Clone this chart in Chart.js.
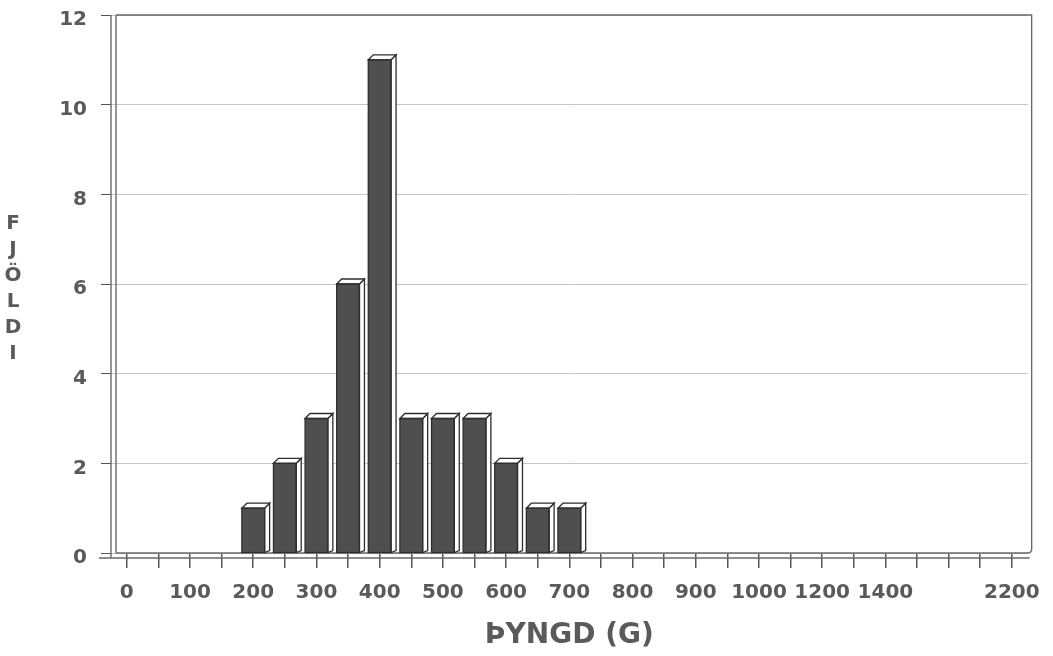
<!DOCTYPE html>
<html>
<head>
<meta charset="utf-8">
<title>Þyngd</title>
<script src="https://cdn.jsdelivr.net/npm/chart.js@4/dist/chart.umd.min.js"></script>
<style>
  body { margin: 0; background: #fff; }
  canvas { display: block; }
</style>
</head>
<body>
<canvas id="thyngd" width="1053" height="656"></canvas>
<script>
// flokkar (g) - 29 bil á x-ás
var flokkar = ['0', '50', '100', '150', '200', '250', '300', '350', '400', '450',
               '500', '550', '600', '650', '700', '750', '800', '850', '900', '950',
               '1000', '1100', '1200', '1300', '1400', '1600', '1800', '2000', '2200'];
// fjöldi í hverju bili
var fjoldi = [0, 0, 0, 0, 1, 2, 3, 6, 11, 3,
              3, 3, 2, 1, 1, 0, 0, 0, 0, 0,
              0, 0, 0, 0, 0, 0, 0, 0, 0];
// merkingar sem birtast undir ásnum
var merkingar = ['0', '', '100', '', '200', '', '300', '', '400', '',
                 '500', '', '600', '', '700', '', '800', '', '900', '',
                 '1000', '', '1200', '', '1400', '', '', '', '2200'];
var yAsTitill = ['F', 'J', 'Ö', 'L', 'D', 'I'];

var letur = '"DejaVu Sans", "Liberation Sans", sans-serif';
var grar = '#5a5a5a';

// rammi: tvöfaldur veggur vinstra megin og gólf undir súlunum
var rammi = {
  id: 'rammi',
  beforeDatasetsDraw: function(chart) {
    var c = chart.ctx, a = chart.chartArea;
    var L = a.left, R = a.right + 4, T = a.top, B = a.bottom;
    c.save();
    c.strokeStyle = '#6a6a6a';
    c.lineWidth = 1.4;
    c.beginPath();
    c.moveTo(L, T); c.lineTo(L, B + 5);
    c.moveTo(L + 5, T); c.lineTo(L + 5, B);
    c.moveTo(L + 5, T); c.lineTo(R, T);
    c.lineTo(R, B - 4); c.quadraticCurveTo(R, B, R - 4, B);
    c.moveTo(L + 5, B); c.lineTo(R - 4, B);
    c.moveTo(L - 12, B + 5); c.lineTo(R - 2, B + 5);
    c.stroke();
    c.restore();
  }
};

// þrívíddaráhrif: efri flötur og hliðarflötur á hverri súlu
var thrividd = {
  id: 'thrividd',
  afterDatasetsDraw: function(chart) {
    var c = chart.ctx;
    var meta = chart.getDatasetMeta(0);
    var d = 5;
    c.save();
    c.lineWidth = 1.3;
    c.strokeStyle = '#2e2e2e';
    c.fillStyle = '#ffffff';
    meta.data.forEach(function(bar, i) {
      if (!fjoldi[i]) return;
      var p = bar.getProps(['x', 'y', 'base', 'width'], true);
      var l = p.x - p.width / 2, r = p.x + p.width / 2;
      // hlið
      c.beginPath();
      c.moveTo(r, p.y); c.lineTo(r + d, p.y - d);
      c.lineTo(r + d, p.base - 2); c.lineTo(r, p.base);
      c.closePath(); c.fill(); c.stroke();
      // toppur
      c.beginPath();
      c.moveTo(l, p.y); c.lineTo(l + d, p.y - d);
      c.lineTo(r + d, p.y - d); c.lineTo(r, p.y);
      c.closePath(); c.fill(); c.stroke();
      // framhlið
      c.strokeRect(l, p.y, p.width, p.base - p.y);
    });
    c.restore();
  }
};

// lóðréttur titill, einn stafur í einu
var lodrettur = {
  id: 'lodrettur',
  afterDraw: function(chart) {
    var c = chart.ctx;
    c.save();
    c.fillStyle = grar;
    c.font = 'bold 20px ' + letur;
    c.textAlign = 'center';
    c.textBaseline = 'middle';
    for (var i = 0; i < yAsTitill.length; i++) {
      c.fillText(yAsTitill[i], 13, 224 + i * 26);
    }
    c.restore();
  }
};

var config = {
  type: 'bar',
  data: {
    labels: flokkar,
    datasets: [{
      data: fjoldi,
      backgroundColor: '#4f4f4f',
      borderWidth: 0,
      barPercentage: 0.9,
      categoryPercentage: 0.8
    }]
  },
  options: {
    responsive: false,
    animation: false,
    layout: { padding: { top: 15, right: 19, left: 0, bottom: 0 } },
    plugins: {
      legend: { display: false },
      tooltip: { enabled: false }
    },
    scales: {
      x: {
        offset: true,
        afterFit: function(s) { s.height = 103; },
        grid: { drawOnChartArea: false, tickLength: 15, tickColor: '#555', lineWidth: 1.5, offset: false },
        border: { display: false },
        ticks: {
          autoSkip: false,
          maxRotation: 0,
          padding: 13,
          color: grar,
          font: { family: letur, size: 20, weight: 'bold' },
          callback: function(v, i) { return merkingar[i]; }
        },
        title: {
          display: true,
          text: 'ÞYNGD (G)',
          color: grar,
          padding: { top: 0, bottom: 3 },
          font: { family: letur, size: 28, weight: 'bold' }
        }
      },
      y: {
        min: 0,
        max: 12,
        afterFit: function(s) { s.width = 111; s.paddingTop = 0; s.paddingBottom = 0; },
        grid: { color: '#c4c4c4', lineWidth: 1, tickLength: 10, tickColor: '#555' },
        border: { display: false },
        ticks: {
          stepSize: 2,
          padding: 14,
          labelOffset: 5,
          color: grar,
          font: { family: letur, size: 20, weight: 'bold' }
        }
      }
    }
  },
  plugins: [rammi, thrividd, lodrettur]
};

var ctx = document.getElementById('thyngd');
window.thyngdChart = new Chart(ctx, config);
</script>
</body>
</html>
